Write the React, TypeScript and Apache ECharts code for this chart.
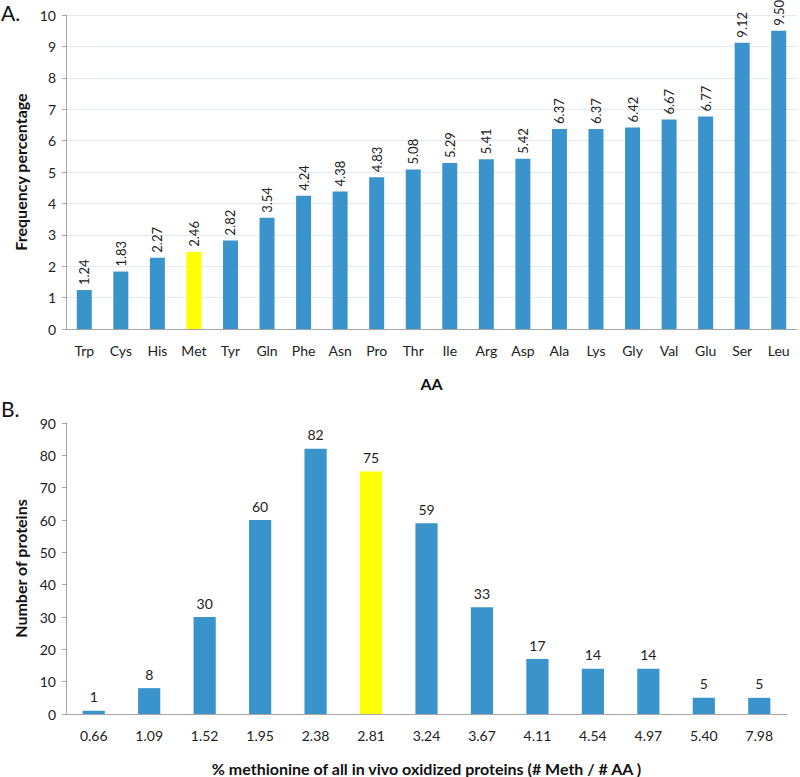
import React, { useEffect, useRef } from "react";
import * as echarts from "echarts";

const aaCategories = ["Trp","Cys","His","Met","Tyr","Gln","Phe","Asn","Pro","Thr","Ile","Arg","Asp","Ala","Lys","Gly","Val","Glu","Ser","Leu"];
const aaValues = [1.24,1.83,2.27,2.46,2.82,3.54,4.24,4.38,4.83,5.08,5.29,5.41,5.42,6.37,6.37,6.42,6.67,6.77,9.12,9.50];
const aaHighlight = "Met";

const methCategories = ["0.66","1.09","1.52","1.95","2.38","2.81","3.24","3.67","4.11","4.54","4.97","5.40","7.98"];
const methValues = [1,8,30,60,82,75,59,33,17,14,14,5,5];
const methHighlight = "2.81";

const BLUE = "#3a93cb";
const YELLOW = "#ffff00";
const FONT = "Lato";

export default function App() {
  const ref = useRef<HTMLDivElement>(null);
  useEffect(() => {
    if (!ref.current) return;
    const chart = echarts.init(ref.current, null, { renderer: "svg" });
    const axisLine = { lineStyle: { color: "#a6a6a6", width: 1 } };
    const tickLabel = { color: "#222", fontFamily: FONT, fontSize: 14 };
    const nameStyle = { fontFamily: FONT, fontSize: 16, fontWeight: "bold", color: "#111" };
    chart.setOption({
      animation: false,
      backgroundColor: "#fff",
      textStyle: { fontFamily: FONT },
      graphic: [
        { type: "text", left: 1, top: 2, style: { text: "A.", fontSize: 21, fontFamily: FONT, fill: "#111" } },
        { type: "text", left: 1, top: 398, style: { text: "B.", fontSize: 21, fontFamily: FONT, fill: "#111" } },
      ],
      grid: [
        { left: 66, top: 15, width: 731, height: 314 },
        { left: 66, top: 423, width: 721, height: 300 },
      ],
      xAxis: [
        {
          gridIndex: 0, type: "category", data: aaCategories,
          axisLine, axisTick: { show: false },
          axisLabel: { ...tickLabel, margin: 14 },
          name: "AA", nameLocation: "middle", nameGap: 46,
          nameTextStyle: nameStyle,
        },
        {
          gridIndex: 1, type: "category", data: methCategories,
          axisLine, axisTick: { show: false },
          axisLabel: { ...tickLabel, margin: 14 },
          name: "% methionine of all in vivo oxidized proteins (# Meth / # AA )", nameLocation: "middle", nameGap: 46,
          nameTextStyle: nameStyle,
        },
      ],
      yAxis: [
        {
          gridIndex: 0, type: "value", min: 0, max: 10, interval: 1,
          axisLine: { show: true, ...axisLine },
          axisTick: { show: true, length: 4, lineStyle: { color: "#a6a6a6" } },
          axisLabel: { ...tickLabel, margin: 10 },
          splitLine: { show: true, lineStyle: { color: "#e2e9f1", width: 1 } },
          name: "Frequency percentage", nameLocation: "middle", nameGap: 36,
          nameTextStyle: nameStyle,
        },
        {
          gridIndex: 1, type: "value", min: 0, max: 90, interval: 10,
          axisLine: { show: true, ...axisLine },
          axisTick: { show: true, length: 4, lineStyle: { color: "#a6a6a6" } },
          axisLabel: { ...tickLabel, margin: 10 },
          splitLine: { show: false },
          name: "Number of proteins", nameLocation: "middle", nameGap: 36,
          nameTextStyle: nameStyle,
        },
      ],
      series: [
        {
          type: "bar", xAxisIndex: 0, yAxisIndex: 0, barWidth: "41%",
          data: aaValues.map((v, i) => ({
            value: v,
            itemStyle: { color: aaCategories[i] === aaHighlight ? YELLOW : BLUE },
          })),
          label: {
            show: true, position: "top", rotate: 90, align: "left", verticalAlign: "middle",
            distance: 5, fontFamily: FONT, fontSize: 13, color: "#222",
            formatter: (p: any) => Number(p.value).toFixed(2),
          },
        },
        {
          type: "bar", xAxisIndex: 1, yAxisIndex: 1, barWidth: "40%",
          data: methValues.map((v, i) => ({
            value: v,
            itemStyle: { color: methCategories[i] === methHighlight ? YELLOW : BLUE },
          })),
          label: {
            show: true, position: "top", distance: 7, fontFamily: FONT, fontSize: 14, color: "#222",
          },
        },
      ],
    });
    return () => chart.dispose();
  }, []);
  return <div ref={ref} style={{ position: "absolute", left: 0, top: 0, width: 800, height: 777 }} />;
}
